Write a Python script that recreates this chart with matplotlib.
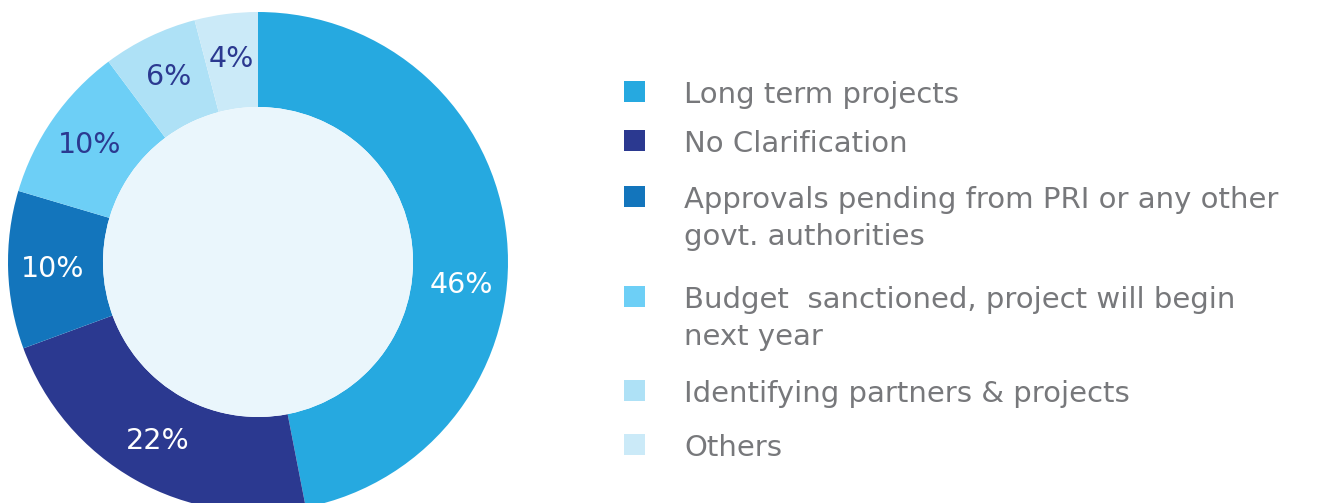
import matplotlib.pyplot as plt
from matplotlib.patches import Circle, Rectangle
import numpy as np

categories = [
    "Long term projects",
    "No Clarification",
    "Approvals pending from PRI or any other\ngovt. authorities",
    "Budget  sanctioned, project will begin\nnext year",
    "Identifying partners & projects",
    "Others",
]
shares = [46, 22, 10, 10, 6, 4]
colors = ["#26A9E0", "#2B3990", "#1375BC", "#6DCFF6", "#AEE1F6", "#CBEAF8"]
label_colors = ["white", "white", "white", "#2B3990", "#2B3990", "#2B3990"]

plt.rcParams['font.family'] = ['DejaVu Sans']

W, H = 1317, 503
fig = plt.figure(figsize=(W / 100, H / 100), dpi=100)

# donut
ax = fig.add_axes([8 / W, -9 / H, 500 / W, 500 / H])
wedges, texts, autotexts = ax.pie(
    shares, colors=colors, startangle=90, counterclock=False,
    radius=1.0, wedgeprops=dict(width=0.38, linewidth=0),
    autopct=lambda p: f"{p * sum(shares) / 100:.0f}%", pctdistance=0.82,
    textprops=dict(fontsize=20.5))
for t, c in zip(autotexts, label_colors):
    t.set_color(c)
# nudge the big label down a little
x0, y0 = autotexts[0].get_position()
a = np.arctan2(y0, x0) - np.radians(12)
r = np.hypot(x0, y0)
autotexts[0].set_position((r * np.cos(a), r * np.sin(a)))

ax.add_patch(Circle((0, 0), 0.62, facecolor="#EAF6FC", edgecolor="none", zorder=3))
ax.set_xlim(-1, 1)
ax.set_ylim(-1, 1)
ax.set_aspect('equal')
ax.axis('off')

# legend, laid out in pixel units
lg = fig.add_axes([0, 0, 1, 1])
lg.set_xlim(0, W)
lg.set_ylim(H, 0)
lg.axis('off')
lg.patch.set_alpha(0)
rows = [103, 152, 208, 308, 402, 456]
for cat, col, yb in zip(categories, colors, rows):
    lg.add_patch(Rectangle((624, yb - 22), 21, 21, facecolor=col, edgecolor='none'))
    for i, line in enumerate(cat.split("\n")):
        lg.text(684, yb + 37 * i, line, fontsize=21, color="#77787B",
                va='baseline', ha='left')

fig.savefig("out.png", dpi=100)
